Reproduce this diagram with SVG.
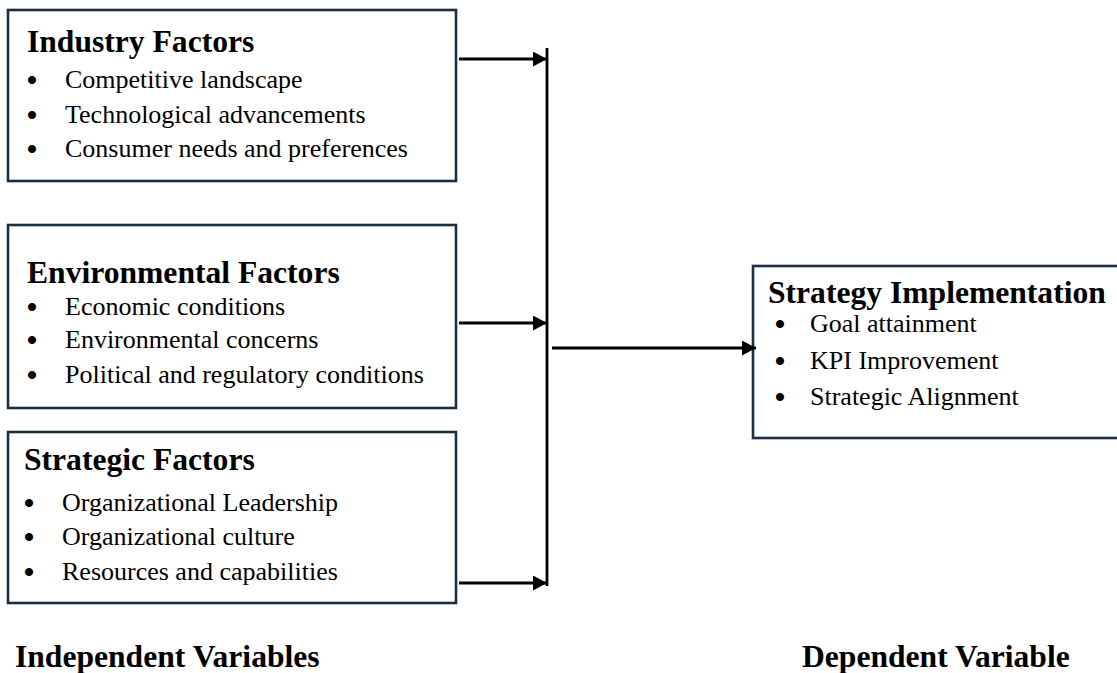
<svg xmlns="http://www.w3.org/2000/svg" width="1117" height="673" viewBox="0 0 1117 673">
  <style>
    .box { fill: #ffffff; stroke: #1a3042; stroke-width: 2.6; }
    .title { font-family: "Liberation Serif", "Times New Roman", serif; font-weight: bold; font-size: 31.6px; fill: #000; }
    .item { font-family: "Liberation Serif", "Times New Roman", serif; font-size: 26px; fill: #000; }
    .dot { font-family: "Liberation Serif", "Times New Roman", serif; font-weight: bold; font-size: 30px; fill: #000; text-anchor: middle; }
    .wire { fill: none; stroke: #000; stroke-width: 2.8; }
  </style>
  <defs>
    <marker id="head" markerUnits="userSpaceOnUse" markerWidth="15" markerHeight="16" refX="14" refY="7.5" orient="auto">
      <path d="M0,0 L14,7.5 L0,15 z" fill="#000"/>
    </marker>
  </defs>
  <rect width="1117" height="673" fill="#ffffff"/>

  <!-- Industry factors -->
  <g id="industry">
    <rect class="box" x="8" y="10" width="448" height="171"/>
    <text class="title" x="27" y="52">Industry Factors</text>
    <text class="dot" x="32" y="90">•</text>
    <text class="item" x="65" y="88">Competitive landscape</text>
    <text class="dot" x="32" y="125">•</text>
    <text class="item" x="65" y="123">Technological advancements</text>
    <text class="dot" x="32" y="159">•</text>
    <text class="item" x="65" y="157">Consumer needs and preferences</text>
  </g>

  <!-- Environmental factors -->
  <g id="environmental">
    <rect class="box" x="8" y="225" width="448" height="183"/>
    <text class="title" x="27" y="283">Environmental Factors</text>
    <text class="dot" x="32" y="317">•</text>
    <text class="item" x="65" y="315">Economic conditions</text>
    <text class="dot" x="32" y="350">•</text>
    <text class="item" x="65" y="348">Environmental concerns</text>
    <text class="dot" x="32" y="385">•</text>
    <text class="item" x="65" y="383">Political and regulatory conditions</text>
  </g>

  <!-- Strategic factors -->
  <g id="strategic">
    <rect class="box" x="8" y="432" width="448" height="171"/>
    <text class="title" x="24" y="470">Strategic Factors</text>
    <text class="dot" x="29" y="513">•</text>
    <text class="item" x="62" y="511">Organizational Leadership</text>
    <text class="dot" x="29" y="547">•</text>
    <text class="item" x="62" y="545">Organizational culture</text>
    <text class="dot" x="29" y="582">•</text>
    <text class="item" x="62" y="580">Resources and capabilities</text>
  </g>

  <!-- Strategy implementation (runs past the right edge) -->
  <g id="implementation">
    <rect class="box" x="753" y="266" width="380" height="172"/>
    <text class="title" x="768" y="303">Strategy Implementation</text>
    <text class="dot" x="780" y="334">•</text>
    <text class="item" x="810" y="332">Goal attainment</text>
    <text class="dot" x="780" y="371">•</text>
    <text class="item" x="810" y="369">KPI Improvement</text>
    <text class="dot" x="780" y="407">•</text>
    <text class="item" x="810" y="405">Strategic Alignment</text>
  </g>

  <!-- Connectors -->
  <g id="connectors">
    <line class="wire" x1="547" y1="48" x2="547" y2="586"/>
    <line class="wire" x1="459" y1="59" x2="547" y2="59" marker-end="url(#head)"/>
    <line class="wire" x1="459" y1="323" x2="547" y2="323" marker-end="url(#head)"/>
    <line class="wire" x1="459" y1="583" x2="547" y2="583" marker-end="url(#head)"/>
    <line class="wire" x1="552" y1="348" x2="756" y2="348" marker-end="url(#head)"/>
  </g>

  <!-- Column labels -->
  <g id="labels">
    <text class="title" x="15" y="667">Independent Variables</text>
    <text class="title" x="802" y="667">Dependent Variable</text>
  </g>
</svg>
